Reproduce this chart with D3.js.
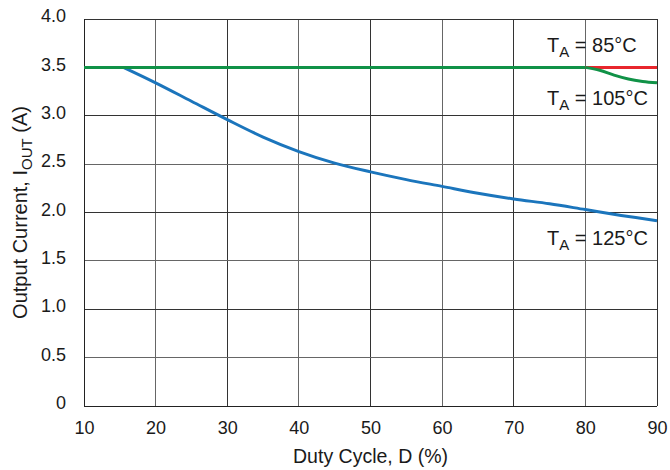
<!DOCTYPE html>
<html><head><meta charset="utf-8">
<script src="https://cdn.jsdelivr.net/npm/d3@7"></script>
<style>body{margin:0;background:#fff}svg{display:block}text{font-family:"Liberation Sans",Arial,sans-serif;fill:#1a1a1a}</style>
</head><body><svg id="c" width="670" height="470"></svg>
<script>
const xTicks = [10,20,30,40,50,60,70,80,90];
const yTicks = [0,0.5,1.0,1.5,2.0,2.5,3.0,3.5,4.0];
const yTickLabels = ["0","0.5","1.0","1.5","2.0","2.5","3.0","3.5","4.0"];
const duty125 = [10,15.5,20,25,30,35,40,45,50,55,60,65,70,75,80,85,90];
const iout125 = [3.5,3.5,3.34,3.15,2.96,2.78,2.63,2.51,2.42,2.34,2.27,2.2,2.14,2.09,2.03,1.97,1.915];
const duty105 = [10,80,82,84,86,88,90];
const iout105 = [3.5,3.5,3.47,3.42,3.38,3.355,3.34];
const duty85 = [10,90];
const iout85 = [3.5,3.5];
const labels = [{t:"85°C", by:52},{t:"105°C", by:105},{t:"125°C", by:245}];

const svg = d3.select("#c");
const L=84,R=657,T=19,B=406;
const x = d3.scaleLinear().domain([10,90]).range([L,R]);
const y = d3.scaleLinear().domain([0,4]).range([B,T]);

const g = svg.append("g");
g.selectAll(".vx").data(xTicks).join("line")
 .attr("x1",d=>x(d)).attr("x2",d=>x(d)).attr("y1",T).attr("y2",B)
 .attr("stroke",(d,i)=>i%2?"#666":"#333").attr("stroke-width",1).attr("shape-rendering","crispEdges");
g.selectAll(".hy").data(yTicks).join("line")
 .attr("x1",L).attr("x2",R).attr("y1",d=>y(d)).attr("y2",d=>y(d))
 .attr("stroke",(d,i)=>i%2?"#666":"#333").attr("stroke-width",1).attr("shape-rendering","crispEdges");
g.append("line").attr("x1",L).attr("x2",L).attr("y1",T).attr("y2",B).attr("stroke","#222").attr("shape-rendering","crispEdges");
g.append("line").attr("x1",L).attr("x2",R).attr("y1",B).attr("y2",B).attr("stroke","#222").attr("shape-rendering","crispEdges");

const xa = d3.axisBottom(x).tickValues(xTicks).tickSize(0).tickPadding(15).tickFormat(d3.format("d"));
const xg = svg.append("g").attr("transform",`translate(0,${B})`).call(xa);
const ya = d3.axisLeft(y).tickValues(yTicks).tickSize(0).tickPadding(18).tickFormat((d,i)=>yTickLabels[i]);
const yg = svg.append("g").attr("transform",`translate(${L},0)`).call(ya);
[xg,yg].forEach(a=>{a.select(".domain").remove();a.selectAll("text").attr("font-size",18).attr("font-family","Liberation Sans, Arial, sans-serif").attr("fill","#1a1a1a");});
yg.selectAll("text").attr("dy","0.15em");

const line = d3.line().x(d=>x(d[0])).y(d=>y(d[1]));
const curve = d3.line().x(d=>x(d[0])).y(d=>y(d[1])).curve(d3.curveCatmullRom.alpha(0.5));
// 125°C: flat segment then smooth derating curve
const p125 = duty125.map((v,i)=>[v,iout125[i]]);
svg.append("path").datum(p125.slice(0,2)).attr("d",line).attr("fill","none").attr("stroke","#1b75bc").attr("stroke-width",3);
svg.append("path").datum(p125.slice(1)).attr("d",curve).attr("fill","none").attr("stroke","#1b75bc").attr("stroke-width",3);
svg.append("path").datum(duty85.map((v,i)=>[v,iout85[i]])).attr("d",line).attr("fill","none").attr("stroke","#e8262d").attr("stroke-width",3);
const p105 = duty105.map((v,i)=>[v,iout105[i]]);
svg.append("path").datum(p105.slice(0,2)).attr("d",line).attr("fill","none").attr("stroke","#109247").attr("stroke-width",3);
svg.append("path").datum(p105.slice(1)).attr("d",d3.line().x(d=>x(d[0])).y(d=>y(d[1])).curve(d3.curveMonotoneX)).attr("fill","none").attr("stroke","#109247").attr("stroke-width",3);

labels.forEach(l=>{
 const t = svg.append("text").attr("x",547).attr("y",l.by).attr("font-size",20);
 t.append("tspan").text("T");
 t.append("tspan").attr("font-size",15).attr("dy",5).text("A");
 t.append("tspan").attr("dy",-5).text(" = "+l.t);
});

svg.append("text").attr("x",(L+R)/2).attr("y",463).attr("text-anchor","middle").attr("font-size",19.5).text("Duty Cycle, D (%)");
const yt = svg.append("text").attr("transform",`translate(27,${(T+B)/2}) rotate(-90)`).attr("text-anchor","middle").attr("font-size",20);
yt.append("tspan").text("Output Current, I");
yt.append("tspan").attr("font-size",15).attr("dy",5).text("OUT");
yt.append("tspan").attr("dy",-5).text(" (A)");
</script></body></html>
